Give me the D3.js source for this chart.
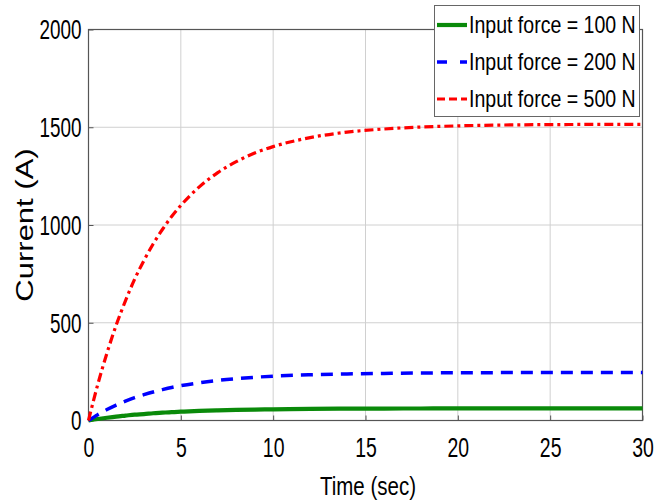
<!DOCTYPE html>
<html><head><meta charset="utf-8">
<script src="https://cdn.jsdelivr.net/npm/d3@7"></script>
<style>body{margin:0;background:#fff}svg{display:block}text{font-family:Arial,"Liberation Sans",sans-serif;fill:#000}</style>
</head><body><svg id="c" width="665" height="503"></svg>
<script>
const time = [0,0.5,1,1.5,2,2.5,3,3.5,4,4.5,5,6,7,8,9,10,12,14,16,18,20,23,26,30];
const force100 = [0,7.5,14,20,25,30,33,37,40,43,45,49,52,54,56,57,59.5,60.5,61,61.5,62,62,62,62];
const force200 = [0,30,56,79,99,117,132,146,158,169,178,193,205,214,221,227,234,238,241,243,244,245,245,245];
const force500 = [0,184,345,488,612,723,818,903,977,1043,1100,1195,1268,1324,1368,1401,1447,1475,1491,1501,1507,1512,1514,1515];
const seriesNames = ["Input force = 100 N","Input force = 200 N","Input force = 500 N"];
const xTicks = [0,5,10,15,20,25,30];
const yTicks = [0,500,1000,1500,2000];

const svg = d3.select("#c");
const L=88.5, R=642.5, T=29.5, B=420.5;
const x = d3.scaleLinear().domain([0,30]).range([L,R]);
const y = d3.scaleLinear().domain([0,2000]).range([B,T]);

// grid
svg.append("g").selectAll("line.gx").data(xTicks).join("line")
  .attr("x1",d=>x(d)).attr("x2",d=>x(d)).attr("y1",T).attr("y2",B)
  .attr("stroke","#d0d0d0").attr("stroke-width",1);
svg.append("g").selectAll("line.gy").data(yTicks).join("line")
  .attr("x1",L).attr("x2",R).attr("y1",d=>y(d)).attr("y2",d=>y(d))
  .attr("stroke","#d0d0d0").attr("stroke-width",1);

// axes
const xa = svg.append("g").attr("transform",`translate(0,${B})`)
  .call(d3.axisBottom(x).tickValues(xTicks).tickSize(-5).tickPadding(12).tickFormat(d3.format("d")));
const ya = svg.append("g").attr("transform",`translate(${L},0)`)
  .call(d3.axisLeft(y).tickValues(yTicks).tickSize(-5).tickPadding(7).tickFormat(d3.format("d")));
[xa,ya].forEach(a=>{a.select(".domain").remove();a.selectAll(".tick line").attr("stroke","#555");});
xa.selectAll(".tick text").attr("font-size",27).attr("fill","#000")
  .attr("transform","scale(0.72,1)").attr("x",0).attr("dy","0.71em").attr("y",17);
ya.selectAll(".tick text").attr("font-size",27).attr("fill","#000")
  .attr("text-anchor","end").attr("dy","0.35em")
  .each(function(){d3.select(this).attr("transform","translate(-7,0) scale(0.7,1)").attr("x",0);});

// frame
svg.append("rect").attr("x",L).attr("y",T).attr("width",R-L).attr("height",B-T)
  .attr("fill","none").attr("stroke","#555").attr("stroke-width",1.2);

// lines
const data = [force100, force200, force500];
const colors = ["#0a8a0a","#0000ff","#ff0000"];
const widths = [4.2,3.5,3.2];
const dashes = [null,"12,8","9,4,3,4"];
const line = d3.line().x((d,i)=>x(time[i])).y(d=>y(d)).curve(d3.curveMonotoneX);
data.forEach((s,k)=>{
  svg.append("path").datum(s).attr("d",line).attr("fill","none")
    .attr("stroke",colors[k]).attr("stroke-width",widths[k])
    .attr("stroke-dasharray",dashes[k]);
});

// axis labels
svg.append("text").attr("transform","translate(368,495) scale(0.82,1)")
  .attr("text-anchor","middle").attr("font-size",25).text("Time (sec)");
svg.append("text").attr("transform","translate(33,225) scale(0.8,1) rotate(-90)")
  .attr("text-anchor","middle").attr("font-size",31).text("Current (A)");

// legend
const lg = svg.append("g");
lg.append("rect").attr("x",434.5).attr("y",5.5).attr("width",205).attr("height",111)
  .attr("fill","#fff").attr("stroke","#666").attr("stroke-width",1);
const legendDashes = [null,"10,13","8,4"];
seriesNames.forEach((n,k)=>{
  const cy = 25+k*37;
  lg.append("line").attr("x1",437).attr("x2",467).attr("y1",cy).attr("y2",cy)
    .attr("stroke",colors[k]).attr("stroke-width",widths[k]).attr("stroke-dasharray",legendDashes[k]);
  lg.append("text").attr("transform",`translate(469,${cy+8}) scale(0.85,1)`)
    .attr("font-size",23).text(n);
});
</script></body></html>
